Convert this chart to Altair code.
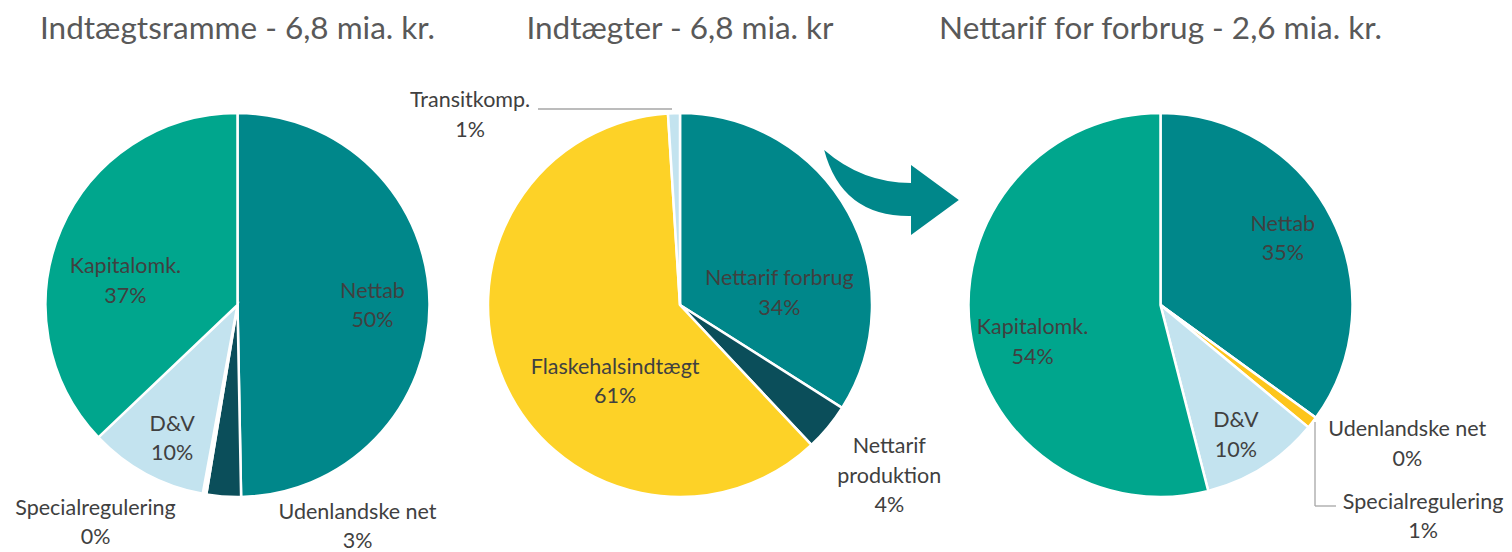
import altair as alt
import pandas as pd

W, H = 1512, 552

# ---------------- data ----------------
titles = ["Indtægtsramme - 6,8 mia. kr.", "Indtægter - 6,8 mia. kr", "Nettarif for forbrug - 2,6 mia. kr."]

p1_cats = ["Nettab", "Udenlandske net", "Specialregulering", "D&V", "Kapitalomk."]
p1_vals = [49.7, 2.9, 0.3, 10.0, 37.1]
p1_pct = ["50%", "3%", "0%", "10%", "37%"]

p2_cats = ["Nettarif forbrug", "Nettarif produktion", "Flaskehalsindtægt", "Transitkomp."]
p2_vals = [34.0, 4.0, 61.0, 1.0]
p2_pct = ["34%", "4%", "61%", "1%"]

p3_cats = ["Nettab", "Udenlandske net", "Specialregulering", "D&V", "Kapitalomk."]
p3_vals = [35.0, 0.0, 1.0, 10.0, 54.0]
p3_pct = ["35%", "0%", "1%", "10%", "54%"]

# ---------------- styles / layout ----------------
TEAL = "#00878A"
colors1 = {"Nettab": TEAL, "Udenlandske net": "#0B4E5A", "Specialregulering": "#FFFFFF",
           "D&V": "#C3E3EF", "Kapitalomk.": "#00A68D"}
colors2 = {"Nettarif forbrug": TEAL, "Nettarif produktion": "#0B4E5A",
           "Flaskehalsindtægt": "#FDD227", "Transitkomp.": "#C3E3EF"}
colors3 = {"Nettab": TEAL, "Udenlandske net": "#0B4E5A", "Specialregulering": "#FDC51C",
           "D&V": "#C3E3EF", "Kapitalomk.": "#00A68D"}
display = {"Nettarif produktion": "Nettarif\nproduktion"}

R = 192
LR_IN, LR_OUT = 135, 221
LINE_H = 29.5
# (label radius, nudge x, nudge y) per slice label
lay1 = {"Nettab": (LR_IN, 0, 3), "Udenlandske net": (LR_OUT, 136, 2),
        "Specialregulering": (LR_OUT, -104, 1), "D&V": (LR_IN, -1, 16),
        "Kapitalomk.": (LR_IN, 12, 30)}
lay2 = {"Nettarif forbrug": (LR_IN, -19, 54), "Nettarif produktion": (LR_OUT, 39, 31),
        "Flaskehalsindtægt": (LR_IN, 59, 24), "Transitkomp.": (LR_OUT, -203, 32)}
lay3 = {"Nettab": (LR_IN, 2, -4), "Udenlandske net": (LR_OUT, 68, 10),
        "Specialregulering": (LR_OUT, 88, 77), "D&V": (LR_IN, 3, 17),
        "Kapitalomk.": (LR_IN, 6, 21)}

centers = [(237.5, 305), (680, 305), (1160.5, 305)]
FONT = "Lato"


def make_df(cats, vals, pct, colors, lay):
    return pd.DataFrame({
        "cat": cats,
        "value": vals,
        "idx": list(range(len(cats))),
        "label": [display.get(c, c) + "\n" + p for c, p in zip(cats, pct)],
        "color": [colors[c] for c in cats],
        "lr": [lay[c][0] for c in cats],
        "ndx": [lay[c][1] for c in cats],
        "ndy": [lay[c][2] for c in cats],
    })


def pie_layers(df, cx, cy):
    base = alt.Chart(df)
    arc = base.mark_arc(radius=R, stroke="white", strokeWidth=2.5).encode(
        theta=alt.Theta("value:Q", stack=True, scale=alt.Scale(domain=[0, 100])),
        color=alt.Color("color:N", scale=None),
        order=alt.Order("idx:Q"),
        x=alt.value(cx), y=alt.value(cy),
    )
    txt = base.transform_window(
        cum="sum(value)", sort=[alt.SortField("idx")], frame=[None, 0]
    ).transform_calculate(
        mid="(datum.cum - datum.value / 2) / 100 * 2 * PI",
        nl="length(split(datum.label, '\\n'))",
        lx=f"{cx} + datum.lr * sin(datum.mid) + datum.ndx",
        ly=f"{cy} - datum.lr * cos(datum.mid) + datum.ndy - (datum.nl - 1) * {LINE_H} / 2",
    ).mark_text(
        font=FONT, fontSize=21.5, color="#404040", lineBreak="\n", lineHeight=LINE_H,
        align="center", baseline="middle",
    ).encode(
        x=alt.X("lx:Q", scale=None), y=alt.Y("ly:Q", scale=None), text="label:N"
    )
    return [arc, txt]


dfs = [make_df(p1_cats, p1_vals, p1_pct, colors1, lay1),
       make_df(p2_cats, p2_vals, p2_pct, colors2, lay2),
       make_df(p3_cats, p3_vals, p3_pct, colors3, lay3)]

layers = []
for df, (cx, cy) in zip(dfs, centers):
    layers += pie_layers(df, cx, cy)

for t, (cx, cy) in zip(titles, centers):
    layers.append(
        alt.Chart(pd.DataFrame({"t": [t]})).mark_text(
            font=FONT, fontSize=31.5, color="#595959", align="center", baseline="alphabetic"
        ).encode(x=alt.value(cx), y=alt.value(39), text="t:N")
    )

one = pd.DataFrame({"a": [0]})
# curved arrow between the second and third pie
arrow_path = ("M -0.99 -0.625 Q -0.43 -0.14 0.287 -0.14 L 0.287 -0.404 L 0.99 0.11 "
              "L 0.287 0.625 L 0.287 0.346 Q -0.73 0.36 -0.99 -0.625 Z")
layers.append(
    alt.Chart(one).mark_point(shape=arrow_path, filled=True, size=136 * 136,
                              color=TEAL, opacity=1, strokeWidth=0)
    .encode(x=alt.value(891.5), y=alt.value(192.5))
)
# leader lines
LEAD = "#A6A6A6"
layers.append(alt.Chart(one).mark_rule(color=LEAD, strokeWidth=1.3).encode(
    x=alt.value(538), x2=alt.value(672), y=alt.value(109), y2=alt.value(109)))
layers.append(alt.Chart(one).mark_rule(color=LEAD, strokeWidth=1.3).encode(
    x=alt.value(1315), x2=alt.value(1315), y=alt.value(422), y2=alt.value(506)))
layers.append(alt.Chart(one).mark_rule(color=LEAD, strokeWidth=1.3).encode(
    x=alt.value(1315), x2=alt.value(1336), y=alt.value(506), y2=alt.value(506)))

chart = alt.layer(*layers).properties(
    width=W, height=H, padding=0, autosize=alt.AutoSizeParams(type="none"),
    background="white",
).configure_view(stroke=None)

chart.save("out.html", embed_options={"renderer": "svg", "actions": False})
